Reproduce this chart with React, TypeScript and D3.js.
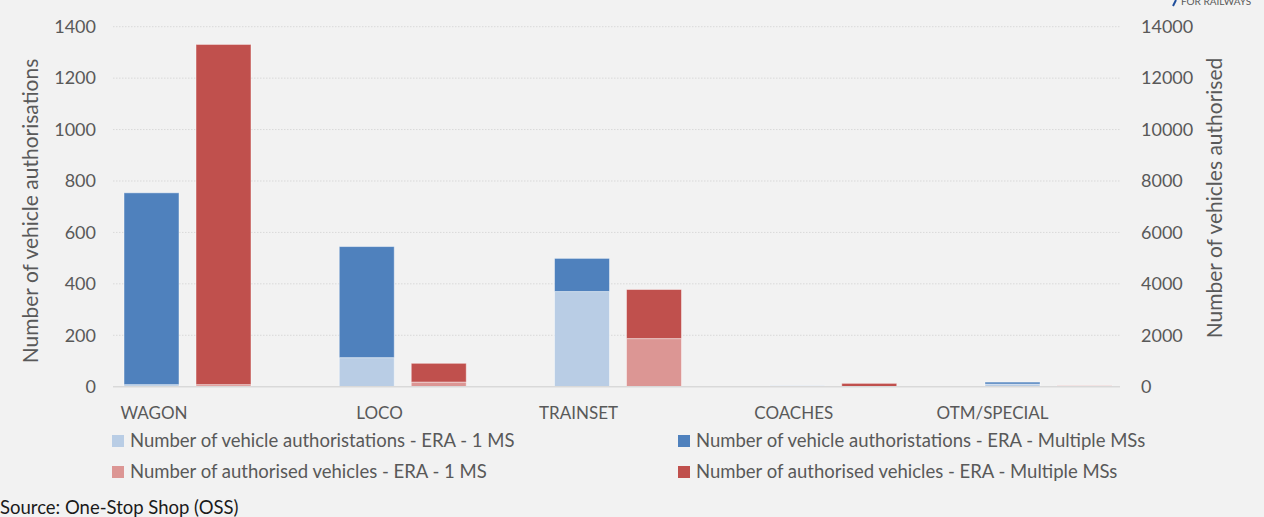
import React from "react";
import * as d3 from "d3";

const categories = ["WAGON", "LOCO", "TRAINSET", "COACHES", "OTM/SPECIAL"];
const auth1MS = [8, 113, 370, 4, 10];
const authMulti = [746, 432, 129, 0, 8];
const veh1MS = [80, 180, 1870, 5, 40];
const vehMulti = [13230, 730, 1910, 125, 0];
const leftTicks = [0, 200, 400, 600, 800, 1000, 1200, 1400];
const rightTicks = [0, 2000, 4000, 6000, 8000, 10000, 12000, 14000];
const legendLabels = [
  "Number of vehicle authoristations - ERA - 1 MS",
  "Number of vehicle authoristations - ERA - Multiple MSs",
  "Number of authorised vehicles - ERA - 1 MS",
  "Number of authorised vehicles - ERA - Multiple MSs",
];

const W = 1264;
const H = 517;
const FONT = "Lato, 'Open Sans', sans-serif";
const TXT = "#595959";
const C_LB = "#b9cde5";
const C_B = "#4f81bd";
const C_LR = "#dc9694";
const C_R = "#c0504d";

export default function App() {
  const plotL = 113;
  const plotR = 1120;
  const y0 = 386.7;
  const yT = 26.7;
  const yL = d3.scaleLinear().domain([0, 1400]).range([y0, yT]);
  const yR = d3.scaleLinear().domain([0, 14000]).range([y0, yT]);
  const x = d3.scaleBand().domain(categories).range([113, 113 + 5 * 215.25]).padding(0);
  const inner = d3.scaleBand().domain(["auth", "veh"]).range([11, 138]).paddingInner(0.236).paddingOuter(0);

  const authStack = d3.stack<number>().keys(["a", "b"]).value((i, k) => (k === "a" ? auth1MS[i] : authMulti[i]))(categories.map((_, i) => i));
  const vehStack = d3.stack<number>().keys(["a", "b"]).value((i, k) => (k === "a" ? veh1MS[i] : vehMulti[i]))(categories.map((_, i) => i));

  const bw = inner.bandwidth();
  const bars: JSX.Element[] = [];
  authStack.forEach((layer, li) => {
    layer.forEach((d, i) => {
      const xx = (x(categories[i]) as number) + (inner("auth") as number);
      const h = yL(d[0]) - yL(d[1]);
      if (h <= 0) return;
      bars.push(
        <rect key={`a${li}${i}`} x={xx} y={yL(d[1])} width={bw} height={h} fill={li === 0 ? C_LB : C_B} stroke="#ffffff" strokeOpacity={0.45} strokeWidth={1} />
      );
    });
  });
  vehStack.forEach((layer, li) => {
    layer.forEach((d, i) => {
      const xx = (x(categories[i]) as number) + (inner("veh") as number);
      const h = yR(d[0]) - yR(d[1]);
      if (h <= 0) return;
      bars.push(
        <rect key={`v${li}${i}`} x={xx} y={yR(d[1])} width={bw} height={h} fill={li === 0 ? C_LR : C_R} stroke="#ffffff" strokeOpacity={0.45} strokeWidth={1} />
      );
    });
  });

  const groupMid = (c: string) =>
    (x(c) as number) + ((inner("auth") as number) + bw + (inner("veh") as number)) / 2;

  const legendPos = [
    { x: 112, y: 441 },
    { x: 678, y: 441 },
    { x: 112, y: 472 },
    { x: 678, y: 472 },
  ];
  const legendColors = [C_LB, C_B, C_LR, C_R];

  return (
    <svg width={W} height={H} style={{ position: "absolute", left: 0, top: 0, fontFamily: FONT }}>
      <rect x={0} y={0} width={W} height={H} fill="#f2f2f2" />
      {/* logo fragment */}
      <path d="M1176,0 L1173,6" stroke="#1f4e9c" strokeWidth={2} />
      <text x={1181} y={5} fontSize={10} fill={TXT}>FOR RAILWAYS</text>
      {/* gridlines */}
      {leftTicks.slice(1).map((t) => (
        <line key={t} x1={plotL} x2={plotR} y1={yL(t)} y2={yL(t)} stroke="#d9d9d9" strokeWidth={1} strokeDasharray="1.5 1.5" />
      ))}
      {bars}
      <line x1={plotL} x2={plotR} y1={y0} y2={y0} stroke="#d9d9d9" strokeWidth={1.5} />
      {leftTicks.map((t) => (
        <text key={t} x={96} y={yL(t)} dy="0.35em" textAnchor="end" fontSize={18} fill={TXT}>{t}</text>
      ))}
      {rightTicks.map((t) => (
        <text key={t} x={1141} y={yR(t)} dy="0.35em" textAnchor="start" fontSize={18} fill={TXT}>{t}</text>
      ))}
      <text transform={`translate(38,${211}) rotate(-90)`} textAnchor="middle" fontSize={21} fill={TXT}>Number of vehicle authorisations</text>
      <text transform={`translate(1222,${198}) rotate(-90)`} textAnchor="middle" fontSize={21} fill={TXT}>Number of vehicles authorised</text>
      {categories.map((c) => (
        <text key={c} x={groupMid(c)} y={413} dy="0.35em" textAnchor="end" fontSize={17} fill={TXT}>{c}</text>
      ))}
      {legendLabels.map((l, i) => (
        <g key={l}>
          <rect x={legendPos[i].x} y={legendPos[i].y - 6} width={12} height={12} fill={legendColors[i]} />
          <text x={legendPos[i].x + 18} y={legendPos[i].y} dy="0.35em" fontSize={18.5} fill={TXT}>{l}</text>
        </g>
      ))}
      <text x={0} y={514} fontSize={18.5} fill="#1a1a1a">Source: One-Stop Shop (OSS)</text>
    </svg>
  );
}
